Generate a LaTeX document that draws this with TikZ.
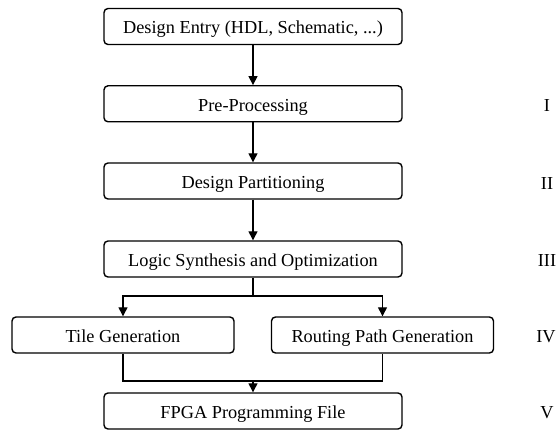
\documentclass[tikz,border=0pt]{standalone}
\usepackage{fontspec}
\setmainfont{Liberation Serif}
\usetikzlibrary{arrows.meta}
\begin{document}
\begin{tikzpicture}[x=1pt,y=-1pt,
  stepbox/.style={draw, rectangle, rounded corners=4pt, line width=1.4pt, minimum height=36pt, inner sep=0pt, text height=15pt, text depth=0pt, font=\fontsize{18.3}{22}\selectfont},
  mainbox/.style={stepbox, minimum width=298pt},
  sidebox/.style={stepbox, minimum width=222pt},
  numlabel/.style={font=\fontsize{18.3}{22}\selectfont, inner sep=0pt, text height=15pt, text depth=0pt},
  conn/.style={line width=1.3pt},
  arr/.style={conn, -{Triangle[length=9pt,width=9pt]}}]
\useasboundingbox (0,0) rectangle (557,430);
\node[mainbox] (entry) at (253,26.5) {Design Entry (HDL, Schematic, ...)};
\node[mainbox] (pre) at (253,103.8) {Pre-Processing};
\node[mainbox] (part) at (253,181) {Design Partitioning};
\node[mainbox] (logic) at (253,259) {Logic Synthesis and Optimization};
\node[sidebox] (tile) at (123,335) {Tile Generation};
\node[sidebox] (route) at (382.5,335) {Routing Path Generation};
\node[mainbox] (fpga) at (253,411) {FPGA Programming File};
\node[numlabel] (n1) at (547,104) {I};
\node[numlabel] (n2) at (547,182) {II};
\node[numlabel] (n3) at (547,259) {III};
\node[numlabel] (n4) at (546,335) {IV};
\node[numlabel] (n5) at (547,411) {V};
\coordinate (br) at (253,296);
\coordinate (mg) at (253,381);
\draw[arr] (entry) -- (pre);
\draw[arr] (pre) -- (part);
\draw[arr] (part) -- (logic);
\draw[conn] (logic) -- (br);
\draw[arr] (br) -| (tile);
\draw[arr] (br) -| (route);
\draw[conn] (tile) |- (mg) -| (route);
\draw[arr] (mg) -- (fpga);
\end{tikzpicture}
\end{document}
